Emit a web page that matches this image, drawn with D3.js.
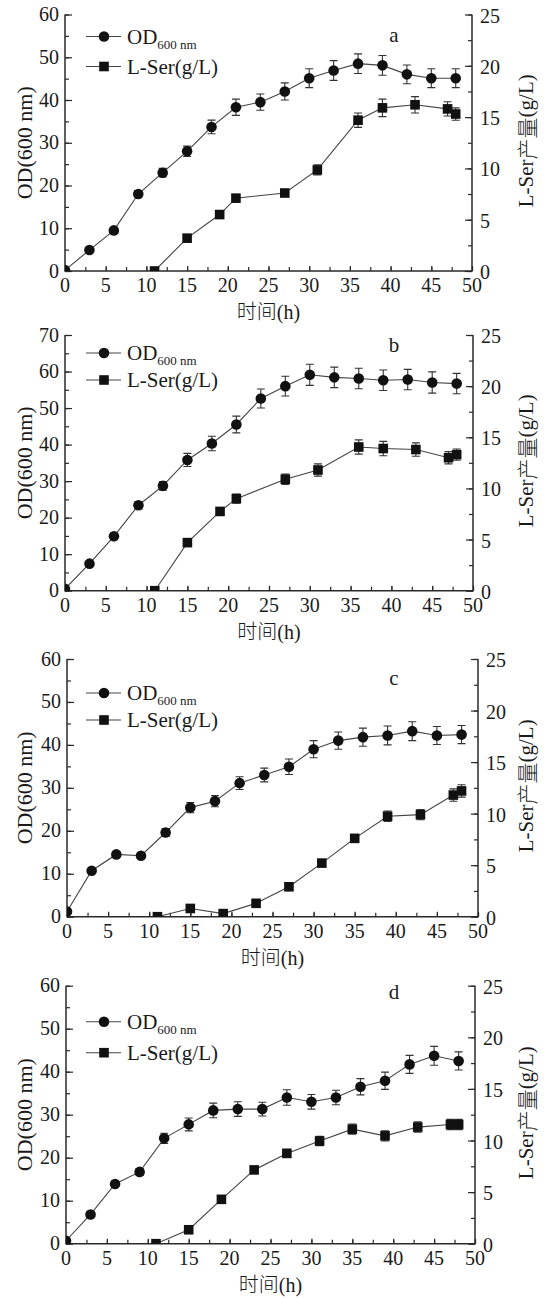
<!DOCTYPE html>
<html>
<head>
<meta charset="utf-8">
<script src="https://cdn.jsdelivr.net/npm/d3@7"></script>
<style>
body { margin: 0; background: #fff; }
svg { display: block; }
</style>
</head>
<body>
<svg id="chart" width="546" height="1298"></svg>
<script>
// sampling times (h)
var odTime = [0, 3, 6, 9, 12, 15, 18, 21, 24, 27, 30, 33, 36, 39, 42, 45, 48];
var serTimeAB = [11, 15, 19, 21, 27, 31, 36, 39, 43, 47, 48];
var serTimeCD = [11, 15, 19, 23, 27, 31, 35, 39, 43, 47, 48];

// panel a
var odA = [0.2, 4.9, 9.5, 18, 23, 28, 33.7, 38.3, 39.5, 42, 45.1, 46.9, 48.5, 48.1, 46, 45.1, 45.1];
var odAErr = [0, 0.5, 0.6, 0.8, 1.0, 1.2, 1.6, 1.9, 1.9, 2.0, 2.2, 2.3, 2.3, 2.3, 2.2, 2.2, 2.2];
var serA = [0, 3.2, 5.5, 7.1, 7.6, 9.85, 14.7, 15.9, 16.2, 15.8, 15.3];
var serAErr = [0, 0.2, 0.3, 0.3, 0.3, 0.5, 0.7, 0.85, 0.8, 0.7, 0.6];

// panel b
var odB = [0.5, 7.4, 14.9, 23.4, 28.7, 35.8, 40.3, 45.5, 52.6, 56, 59.1, 58.4, 58.1, 57.6, 57.8, 57, 56.7];
var odBErr = [0, 0.5, 0.7, 1.0, 1.2, 1.8, 2.0, 2.3, 2.6, 2.7, 2.9, 2.8, 2.8, 2.8, 2.8, 2.9, 2.8];
var serB = [0, 4.7, 7.75, 9.0, 10.9, 11.8, 14.05, 13.9, 13.8, 13.0, 13.3];
var serBErr = [0, 0.2, 0.3, 0.45, 0.5, 0.6, 0.7, 0.7, 0.65, 0.6, 0.55];

// panel c
var odC = [1.2, 10.7, 14.5, 14.2, 19.6, 25.4, 26.9, 31.1, 33, 34.9, 39, 41, 41.8, 42.2, 43.2, 42.2, 42.4];
var odCErr = [0, 0.5, 0.6, 0.6, 0.9, 1.2, 1.3, 1.5, 1.6, 1.8, 2.0, 2.0, 2.1, 2.2, 2.2, 2.1, 2.1];
var serC = [0, 0.8, 0.3, 1.3, 2.9, 5.2, 7.6, 9.75, 9.9, 11.8, 12.2];
var serCErr = [0, 0.1, 0.1, 0.2, 0.3, 0.3, 0.3, 0.5, 0.5, 0.6, 0.6];

// panel d
var odD = [0.7, 6.8, 13.9, 16.7, 24.5, 27.75, 31, 31.3, 31.3, 34, 33, 34, 36.5, 37.9, 41.7, 43.7, 42.5];
var odDErr = [0, 0.5, 0.6, 0.8, 1.2, 1.5, 1.7, 1.7, 1.6, 1.8, 1.7, 1.7, 1.9, 2.0, 2.1, 2.2, 2.1];
var serD = [0, 1.35, 4.3, 7.15, 8.75, 9.95, 11.1, 10.45, 11.3, 11.55, 11.55];
var serDErr = [0, 0.2, 0.3, 0.3, 0.4, 0.45, 0.5, 0.5, 0.5, 0.5, 0.5];

var panelNames = ["a", "b", "c", "d"];
var odMaxes = [60, 70, 60, 60];
var serMax = 25;
var timeMax = 50;

// layout of each panel box
var boxes = [
  {left: 65, right: 472, top: 14.5, bottom: 271, leg1: 22, leg2: 52, letter: 20},
  {left: 65, right: 473, top: 335, bottom: 590.7, leg1: 18, leg2: 45, letter: 10},
  {left: 67, right: 478, top: 659, bottom: 916.7, leg1: 34, leg2: 61, letter: 19},
  {left: 66, right: 475, top: 985.7, bottom: 1243.7, leg1: 36, leg2: 67, letter: 6}
];

var odAll = [odA, odB, odC, odD];
var odErrAll = [odAErr, odBErr, odCErr, odDErr];
var serAll = [serA, serB, serC, serD];
var serErrAll = [serAErr, serBErr, serCErr, serDErr];
var serTimes = [serTimeAB, serTimeAB, serTimeCD, serTimeCD];

var serif = "'Liberation Serif', 'Times New Roman', 'DejaVu Serif', serif";
var cjk = "'Noto Sans CJK SC', sans-serif";

var svg = d3.select("#chart").attr("font-family", serif).attr("fill", "#1a1a1a");
var ink = "#2a2a2a";

var drawPanel = function(p) {
  var b = boxes[p];
  var g = svg.append("g");

  var x = d3.scaleLinear().domain([0, timeMax]).range([b.left, b.right]);
  var yL = d3.scaleLinear().domain([0, odMaxes[p]]).range([b.bottom, b.top]);
  var yR = d3.scaleLinear().domain([0, serMax]).range([b.bottom, b.top]);

  // minor ticks (inward)
  var xAxisMinor = d3.axisTop(x).tickValues(d3.range(0, timeMax + 0.1, 2.5)).tickSize(4).tickFormat("");
  var yLMinor = d3.axisRight(yL).tickValues(d3.range(0, odMaxes[p] + 0.1, 5)).tickSize(4).tickFormat("");
  var yRMinor = d3.axisLeft(yR).tickValues(d3.range(0, serMax + 0.1, 2.5)).tickSize(4).tickFormat("");

  g.append("g").attr("transform", "translate(0," + b.bottom + ")").call(xAxisMinor);
  g.append("g").attr("transform", "translate(" + b.left + ",0)").call(yLMinor);
  g.append("g").attr("transform", "translate(" + b.right + ",0)").call(yRMinor);

  // major ticks
  var xAxis = d3.axisTop(x).tickValues(d3.range(0, timeMax + 1, 5)).tickSize(5).tickFormat("");
  var yLAxis = d3.axisRight(yL).tickValues(d3.range(0, odMaxes[p] + 1, 10)).tickSize(7).tickFormat("");
  var yRAxis = d3.axisLeft(yR).tickValues(d3.range(0, serMax + 1, 5)).tickSize(7).tickFormat("");

  g.append("g").attr("transform", "translate(0," + b.bottom + ")").call(xAxis);
  g.append("g").attr("transform", "translate(" + b.left + ",0)").call(yLAxis);
  g.append("g").attr("transform", "translate(" + b.right + ",0)").call(yRAxis);

  g.selectAll(".domain").remove();
  g.selectAll(".tick line").attr("stroke", ink).attr("stroke-width", 1.2);

  // axis lines
  g.append("path")
    .attr("d", "M" + b.left + "," + b.top + "V" + b.bottom + "H" + b.right + "V" + b.top)
    .attr("fill", "none").attr("stroke", ink).attr("stroke-width", 1.5);

  // tick labels
  g.selectAll(".xl").data(d3.range(0, timeMax + 1, 5)).enter().append("text")
    .attr("font-family", serif)
    .attr("x", function(d) { return x(d); }).attr("y", b.bottom + 21)
    .attr("text-anchor", "middle").style("font-size", "20px").text(function(d) { return d; });
  g.selectAll(".yl").data(d3.range(0, odMaxes[p] + 1, 10)).enter().append("text")
    .attr("font-family", serif)
    .attr("x", b.left - 6).attr("y", function(d) { return yL(d) + 6.5; })
    .attr("text-anchor", "end").style("font-size", "20px").text(function(d) { return d; });
  g.selectAll(".yr").data(d3.range(0, serMax + 1, 5)).enter().append("text")
    .attr("font-family", serif)
    .attr("x", b.right + 8).attr("y", function(d) { return yR(d) + 8; })
    .attr("text-anchor", "start").style("font-size", "20px").text(function(d) { return d; });

  // axis titles
  var xt = g.append("text").attr("font-family", serif).attr("x", (b.left + b.right) / 2).attr("y", b.bottom + 48)
    .attr("text-anchor", "middle").style("font-size", "20px");
  xt.append("tspan").attr("font-family", cjk).attr("font-weight", 300).text("时间");
  xt.append("tspan").text("(h)");
  g.append("text").attr("font-family", serif)
    .attr("transform", "translate(24," + ((b.top + b.bottom) / 2) + ") rotate(-90)")
    .attr("text-anchor", "middle").attr("dominant-baseline", "central")
    .style("font-size", "22px").text("OD(600 nm)");
  var rt = g.append("text").attr("font-family", serif)
    .attr("transform", "translate(526," + ((b.top + b.bottom) / 2 - 2) + ") rotate(-90)")
    .attr("text-anchor", "middle").attr("dominant-baseline", "central")
    .style("font-size", "21px");
  rt.append("tspan").text("L-Ser");
  rt.append("tspan").attr("font-family", cjk).attr("font-weight", 300).text("产量");
  rt.append("tspan").text("(g/L)");

  // panel letter
  g.append("text").attr("font-family", serif).attr("x", 394).attr("y", b.top + b.letter + 7)
    .attr("text-anchor", "middle").style("font-size", "21px").text(panelNames[p]);

  // clip to plot area
  var clipId = "clip" + p;
  svg.append("clipPath").attr("id", clipId).append("rect")
    .attr("x", b.left).attr("y", b.top - 20).attr("width", b.right - b.left).attr("height", b.bottom - b.top + 20);
  var plot = g.append("g").attr("clip-path", "url(#" + clipId + ")");

  var odPts = odTime.map(function(t, i) { return {t: t, v: odAll[p][i], e: odErrAll[p][i]}; });
  var serPts = serTimes[p].map(function(t, i) { return {t: t, v: serAll[p][i], e: serErrAll[p][i]}; });

  var lineL = d3.line().x(function(d) { return x(d.t); }).y(function(d) { return yL(d.v); });
  var lineR = d3.line().x(function(d) { return x(d.t); }).y(function(d) { return yR(d.v); });

  plot.append("path").datum(odPts).attr("d", lineL).attr("fill", "none").attr("stroke", "#444").attr("stroke-width", 1.1);
  plot.append("path").datum(serPts).attr("d", lineR).attr("fill", "none").attr("stroke", "#444").attr("stroke-width", 1.1);

  // error bars
  var errBars = function(pts, y) {
    var eg = plot.append("g").attr("stroke", "#333").attr("stroke-width", 1.1).attr("fill", "none");
    eg.selectAll("path").data(pts.filter(function(d) { return d.e > 0; })).enter().append("path")
      .attr("d", function(d) {
        var cx = x(d.t), y1 = y(d.v + d.e), y2 = y(d.v - d.e);
        return "M" + cx + "," + y1 + "V" + y2 + "M" + (cx - 4) + "," + y1 + "H" + (cx + 4) + "M" + (cx - 4) + "," + y2 + "H" + (cx + 4);
      });
  };
  errBars(odPts, yL);
  errBars(serPts, yR);

  plot.selectAll(".od").data(odPts).enter().append("circle")
    .attr("cx", function(d) { return x(d.t); }).attr("cy", function(d) { return yL(d.v); })
    .attr("r", 5.3).attr("fill", "#111");
  plot.selectAll(".ser").data(serPts).enter().append("rect")
    .attr("x", function(d) { return x(d.t) - 4.8; }).attr("y", function(d) { return yR(d.v) - 4.8; })
    .attr("width", 9.6).attr("height", 9.6).attr("fill", "#111");

  // legend
  var ly1 = b.top + b.leg1, ly2 = b.top + b.leg2;
  var leg = g.append("g");
  [ly1, ly2].forEach(function(ly) {
    leg.append("line").attr("x1", 86).attr("x2", 121).attr("y1", ly).attr("y2", ly)
      .attr("stroke", "#444").attr("stroke-width", 1.1);
  });
  leg.append("circle").attr("cx", 104).attr("cy", ly1).attr("r", 5.3).attr("fill", "#111");
  leg.append("rect").attr("x", 104 - 4.8).attr("y", ly2 - 4.8).attr("width", 9.6).attr("height", 9.6).attr("fill", "#111");
  var t1 = leg.append("text").attr("font-family", serif).attr("x", 127).attr("y", ly1 + 7).style("font-size", "21px");
  t1.append("tspan").text("OD");
  t1.append("tspan").attr("dy", 5).style("font-size", "13px").text("600 nm");
  leg.append("text").attr("font-family", serif).attr("x", 127).attr("y", ly2 + 7).style("font-size", "21px").text("L-Ser(g/L)");
};

for (var p = 0; p < 4; p++) {
  drawPanel(p);
}
</script>
</body>
</html>
